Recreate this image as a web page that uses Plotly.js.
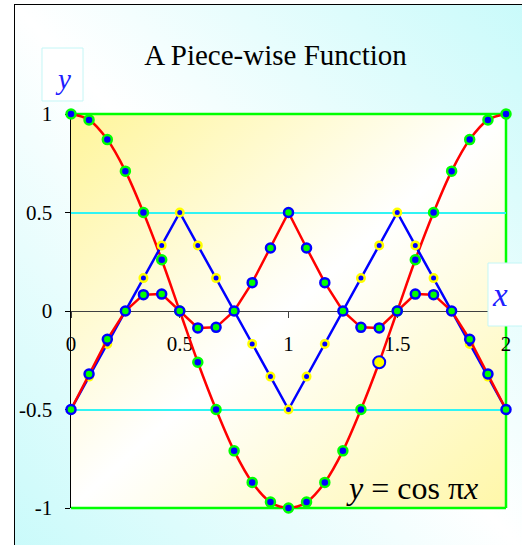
<!DOCTYPE html>
<html>
<head>
<meta charset="utf-8">
<script src="https://cdn.plot.ly/plotly-3.0.1.min.js"></script>
<style>
  html, body { margin: 0; padding: 0; overflow: hidden; background: #ffffff; }
  #frame {
    position: absolute; left: 14px; top: 4px; width: 540px; height: 580px;
    border: 1px solid #000000;
    background: linear-gradient(to top right, #c6fafa 0%, #ffffff 50%, #c6fafa 100%);
  }
  #chart { position: absolute; left: 0; top: 0; width: 522px; height: 545px; }
</style>
</head>
<body>
<div id="frame"></div>
<div id="chart"></div>
<script>
// Sample points, x = k/12 on [0, 2]
const xs = [0, 0.083, 0.167, 0.25, 0.333, 0.417, 0.5, 0.583, 0.667, 0.75, 0.833, 0.917,
            1, 1.083, 1.167, 1.25, 1.333, 1.417, 1.5, 1.583, 1.667, 1.75, 1.833, 1.917, 2];

// y = cos(pi x)
const cosY = [1, 0.97, 0.87, 0.71, 0.5, 0.26, 0, -0.26, -0.5, -0.71, -0.87, -0.97,
              -1, -0.97, -0.87, -0.71, -0.5, -0.26, 0, 0.26, 0.5, 0.71, 0.87, 0.97, 1];

// triangle wave
const triY = [-0.5, -0.333, -0.167, 0, 0.167, 0.333, 0.5, 0.333, 0.167, 0, -0.167, -0.333,
              -0.5, -0.333, -0.167, 0, 0.167, 0.333, 0.5, 0.333, 0.167, 0, -0.167, -0.333, -0.5];

// piece-wise product curve
const pieceY = [-0.5, -0.32, -0.144, 0, 0.083, 0.086, 0, -0.086, -0.083, 0, 0.144, 0.32,
                0.5, 0.32, 0.144, 0, -0.083, -0.086, 0, 0.086, 0.083, 0, -0.144, -0.32, -0.5];

// highlighted point on the cosine curve
const markX = [1.417];
const markY = [-0.26];

const xTickVals = [0, 0.5, 1, 1.5, 2];
const xTickText = ['0', '0.5', '1', '1.5', '2'];
const yTickVals = [-1, -0.5, 0, 0.5, 1];
const yTickText = ['-1', '-0.5', '0', '0.5', '1'];
const yGridVals = [-0.5, 0.5];

const serif = 'Liberation Serif, Times New Roman, serif';

const traces = [
  {
    x: xs, y: cosY, type: 'scatter', mode: 'lines+markers', cliponaxis: false,
    line: { color: '#ff0000', width: 2.5, shape: 'spline', smoothing: 1 },
    marker: { size: 9, color: '#0000ff', line: { color: '#00ff00', width: 2.5 } },
    hoverinfo: 'skip'
  },
  {
    x: xs, y: triY, type: 'scatter', mode: 'lines+markers', cliponaxis: false,
    line: { color: '#0000ff', width: 2.5 },
    marker: { size: 7.5, color: '#0000ff', line: { color: '#ffff00', width: 2.5 } },
    hoverinfo: 'skip'
  },
  {
    x: xs, y: pieceY, type: 'scatter', mode: 'lines+markers', cliponaxis: false,
    line: { color: '#ff0000', width: 2.5 },
    marker: { size: 9, color: '#00ff00', line: { color: '#0000ff', width: 2.5 } },
    hoverinfo: 'skip'
  },
  {
    x: markX, y: markY, type: 'scatter', mode: 'markers', cliponaxis: false,
    marker: { size: 12, color: '#ffff00', line: { color: '#0000ff', width: 2 } },
    hoverinfo: 'skip'
  }
];

// plot-area fill: yellow corners fading to white along the diagonal
const bgSvg = "<svg xmlns='http://www.w3.org/2000/svg' width='100' height='100' viewBox='0 0 100 100' preserveAspectRatio='none'>" +
  "<defs><linearGradient id='g' x1='0' y1='0' x2='1' y2='1'>" +
  "<stop offset='0' stop-color='#fff59a'/><stop offset='0.5' stop-color='#ffffff'/><stop offset='1' stop-color='#fff7a8'/>" +
  "</linearGradient></defs><rect width='100' height='100' fill='url(#g)'/></svg>";

const green = '#00ff00';

const layout = {
  width: 522, height: 545,
  margin: { l: 71, r: 16, t: 114, b: 37, pad: 0 },
  paper_bgcolor: 'rgba(0,0,0,0)',
  plot_bgcolor: 'rgba(0,0,0,0)',
  showlegend: false,
  title: {
    text: 'A Piece-wise Function',
    font: { family: serif, size: 29, color: '#000000' },
    x: 275.5 / 522, xanchor: 'center', xref: 'container',
    y: 1 - 55 / 545, yanchor: 'middle', yref: 'container'
  },
  xaxis: {
    range: [0, 2], anchor: 'free', position: 0.5,
    showline: true, linecolor: '#404040', linewidth: 1,
    ticks: 'outside', ticklen: 6, tickcolor: '#404040', tickwidth: 1,
    tickvals: xTickVals, ticktext: xTickText,
    tickfont: { family: serif, size: 21, color: '#000000' },
    ticklabelstandoff: 8,
    showgrid: false, zeroline: false, layer: 'below traces', fixedrange: true
  },
  yaxis: {
    range: [-1, 1],
    showline: true, linecolor: '#000000', linewidth: 1.5,
    ticks: 'outside', ticklen: 5, tickcolor: '#000000', tickwidth: 1,
    tickvals: yTickVals, ticktext: yTickText,
    tickfont: { family: serif, size: 21, color: '#000000' },
    ticklabelstandoff: 8,
    showgrid: false,
    minor: { tickmode: 'array', tickvals: yGridVals, ticks: '', showgrid: true, gridcolor: '#30f4f4', gridwidth: 2 },
    zeroline: false, layer: 'below traces', fixedrange: true
  },
  images: [{
    source: 'data:image/svg+xml;charset=utf-8,' + encodeURIComponent(bgSvg),
    xref: 'paper', yref: 'paper', x: 0, y: 1, sizex: 1, sizey: 1,
    xanchor: 'left', yanchor: 'top', sizing: 'stretch', layer: 'below'
  }],
  shapes: [
    // green frame on top, right and bottom
    { type: 'line', xref: 'paper', yref: 'paper', x0: 0, x1: 1, y0: 1, y1: 1, layer: 'between', line: { color: green, width: 2.5 } },
    { type: 'line', xref: 'paper', yref: 'paper', x0: 1, x1: 1, y0: 0, y1: 1, layer: 'between', line: { color: green, width: 2.5 } },
    { type: 'line', xref: 'paper', yref: 'paper', x0: 0, x1: 1, y0: 0, y1: 0, layer: 'between', line: { color: green, width: 2.5 } },
    // axis-name boxes
    { type: 'rect', xref: 'paper', yref: 'paper', x0: -0.0667, x1: 0.0276, y0: 1.033, y1: 1.1675, layer: 'above',
      fillcolor: '#ffffff', line: { color: '#c4f6f6', width: 1 } },
    { type: 'rect', xref: 'paper', yref: 'paper', x0: 0.9586, x1: 1.06, y0: 0.4619, y1: 0.6218, layer: 'above',
      fillcolor: '#ffffff', line: { color: '#c4f6f6', width: 1 } }
  ],
  annotations: [
    { text: '<i>y</i>', xref: 'paper', yref: 'paper', x: -0.0184, y: 1.0888, xanchor: 'center', yanchor: 'middle',
      showarrow: false, font: { family: serif, size: 29, color: '#2020ff' } },
    { text: '<i>x</i>', xref: 'paper', yref: 'paper', x: 0.986, y: 0.5406, xanchor: 'center', yanchor: 'middle',
      showarrow: false, font: { family: serif, size: 33, color: '#2020ff' } },
    { text: '<i>y</i> = cos π<i>x</i>', xref: 'paper', yref: 'paper', x: 0.785, y: 0.0508, xanchor: 'center', yanchor: 'middle',
      showarrow: false, font: { family: serif, size: 32, color: '#000000' } }
  ]
};

Plotly.newPlot('chart', traces, layout, { staticPlot: true, displayModeBar: false });
</script>
</body>
</html>
